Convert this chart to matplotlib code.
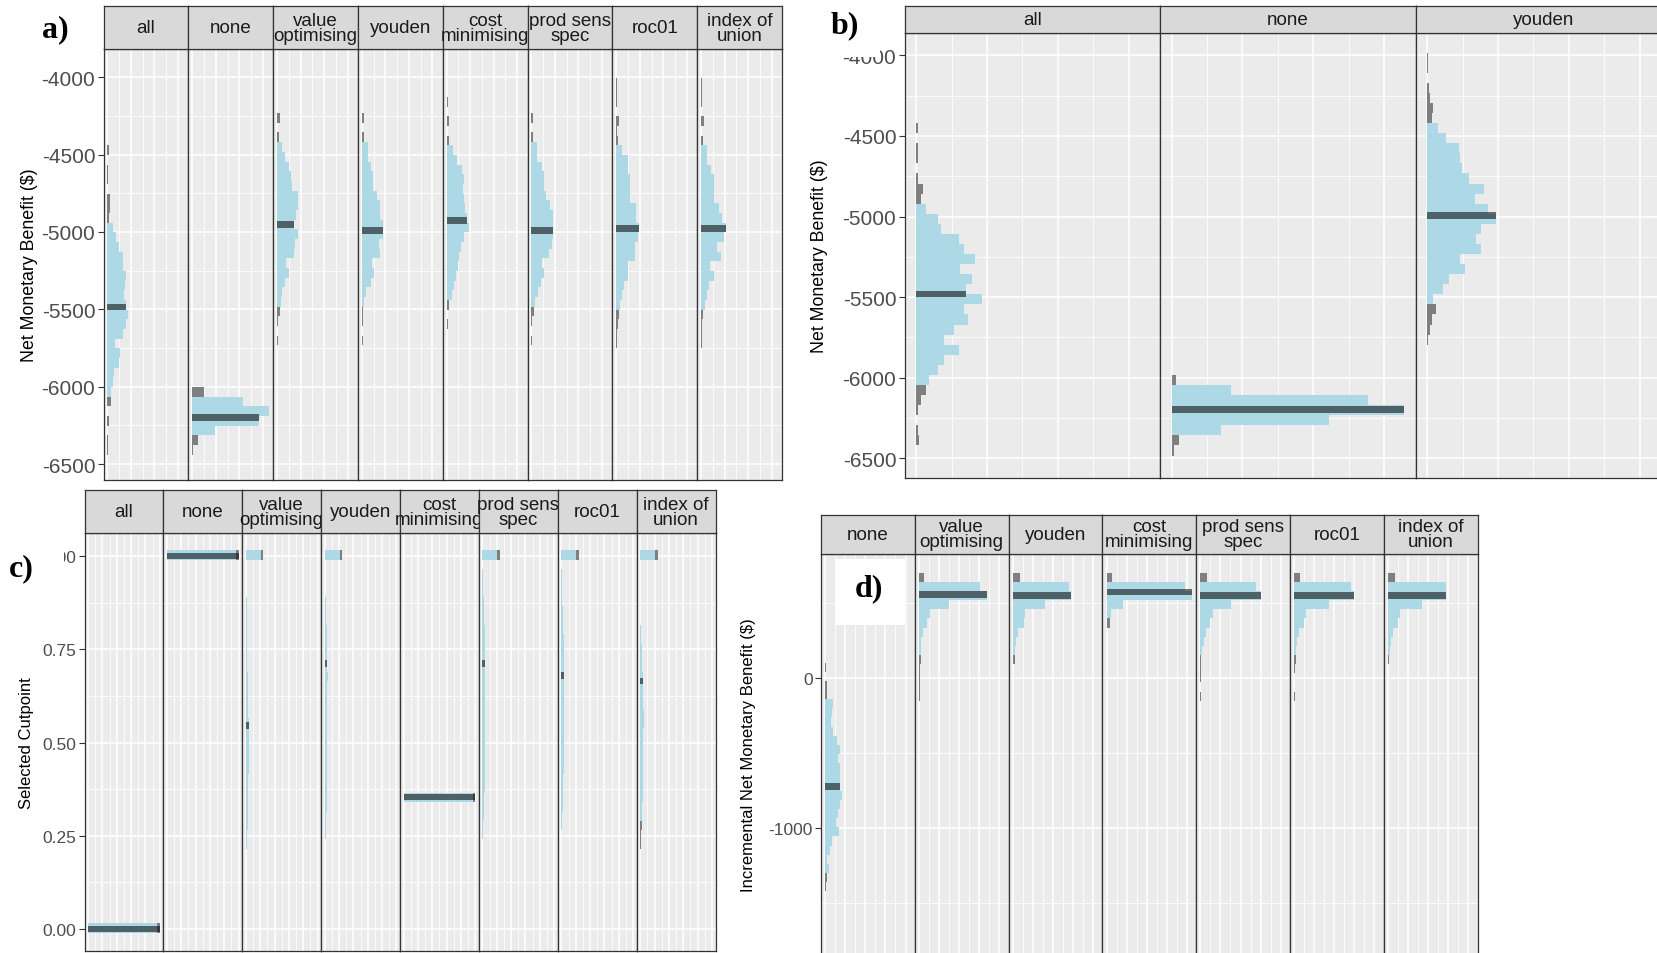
import numpy as np
import matplotlib
matplotlib.use("Agg")
import matplotlib.pyplot as plt
from matplotlib.patches import Rectangle

plt.rcParams['font.family'] = ['Liberation Sans', 'DejaVu Sans']

# Facet Names
methods = ["all", "none", "value\noptimising", "youden", "cost\nminimising",
           "prod sens\nspec", "roc01", "index of\nunion"]
b_methods = ["all", "none", "youden"]
d_methods = methods[1:]

# a) Net Monetary Benefit, counts listed from the top bin downwards
a_binwidth = 62.5
a_top_edge = [-4440, -6002.5, -4232.5, -4232.5, -4127.5, -4232.5, -4002.5, -4002.5]
a_counts = [
    [28, 0, 14, 14, 0, 49, 49, 30, 127, 176, 240, 338, 338, 388, 374, 360, 388, 430, 395, 324,
     155, 268, 240, 148, 127, 85, 78, 0, 28, 0, 20, 20],
    [247, 1085, 1640, 1414, 490, 113, 15],
    [56, 0, 42, 113, 169, 247, 289, 324, 437, 437, 409, 367, 437, 388, 360, 197, 247, 169, 113, 78,
     56, 21, 0, 14],
    [49, 0, 42, 134, 134, 204, 240, 240, 317, 388, 388, 458, 458, 374, 388, 212, 261, 197, 92, 56,
     35, 21, 0, 14],
    [28, 0, 49, 0, 49, 141, 212, 324, 374, 345, 374, 388, 430, 486, 374, 296, 268, 240, 197, 162,
     120, 56, 0, 28],
    [42, 0, 28, 127, 127, 219, 268, 268, 303, 388, 458, 458, 458, 430, 366, 226, 268, 212, 148, 78,
     49, 14, 0, 14],
    [14, 14, 14, 0, 56, 14, 42, 127, 240, 240, 282, 282, 296, 423, 423, 480, 458, 402, 402, 240,
     240, 169, 120, 70, 63, 28, 14, 14],
    [14, 14, 14, 0, 56, 0, 42, 127, 127, 212, 268, 268, 268, 374, 451, 536, 493, 345, 430, 183,
     268, 176, 127, 78, 42, 14, 14, 14],
]
a_median = [-5485, -6200, -4950, -4990, -4929, -4990, -4980, -4980]
a_ci_low = [-6065, -6315, -5480, -5480, -5440, -5480, -5500, -5500]
a_ci_high = [-4940, -6065, -4420, -4420, -4420, -4420, -4420, -4420]

# b) Net Monetary Benefit for three strategies
b_binwidth = 62.5
b_top_edge = [-4420, -5982.5, -3982.5]
b_counts = [
    [12, 0, 10, 10, 0, 10, 50, 31, 71, 154, 173, 299, 339, 412, 308, 391, 351, 462, 339, 363,
     268, 197, 299, 197, 154, 92, 71, 31, 10, 0, 10, 21],
    [28, 422, 1385, 1640, 1110, 351, 50, 19],
    [5, 5, 0, 10, 19, 40, 31, 80, 130, 225, 235, 246, 296, 398, 341, 431, 483, 379, 348, 379,
     235, 265, 152, 111, 38, 59, 31, 19, 7],
]
b_median = [-5480, -6196, -4995]
b_ci_low = [-6045, -6358, -5545]
b_ci_high = [-4920, -6045, -4420]

# c) Selected cutpoint, counts listed from the lowest bin upwards
c_binwidth = 0.025
c_low_edge = [-0.01, 0.99, 0.165, 0.19, 0.34, 0.24, 0.265, 0.215]
c_counts = [
    [9630],
    [9630],
    [40, 90, 150, 210, 260, 300, 330, 350, 360, 370, 380, 390, 400, 410, 420, 380, 330, 300, 280,
     260, 240, 230, 220, 210, 200, 190, 180, 160, 130, 90, 0, 0, 0, 2090],
    [30, 80, 140, 200, 240, 270, 290, 300, 310, 320, 330, 330, 340, 340, 350, 350, 360, 370, 380,
     390, 380, 360, 330, 300, 270, 230, 180, 120, 60, 0, 0, 0, 2090],
    [9700],
    [30, 90, 160, 220, 260, 290, 310, 320, 330, 340, 340, 350, 350, 360, 360, 370, 370, 380, 390,
     400, 380, 350, 310, 270, 220, 170, 120, 70, 30, 0, 2090],
    [40, 100, 170, 230, 270, 300, 320, 330, 340, 350, 350, 360, 360, 370, 370, 380, 390, 400, 390,
     370, 340, 300, 260, 210, 160, 110, 70, 30, 0, 2090],
    [60, 120, 190, 250, 300, 340, 370, 390, 410, 420, 430, 440, 450, 460, 460, 450, 430, 400, 360,
     310, 250, 190, 130, 80, 40, 0, 0, 0, 0, 0, 0, 2090],
]
c_tip = [370, 370, 350, 350, 300, 350, 350, 350]
c_median = [0.0, 1.0, 0.546, 0.711, 0.354, 0.711, 0.68, 0.665]
c_ci_low = [-0.02, 0.98, 0.2, 0.23, 0.33, 0.25, 0.27, 0.295]
c_ci_high = [0.02, 1.02, 1.02, 1.02, 0.37, 1.02, 1.02, 1.02]

# d) Incremental Net Monetary Benefit, counts listed from the top bin downwards
d_binwidth = 61
d_top_edge = [100, 699, 699, 699, 699, 699, 699]
d_counts = [
    [50, 0, 67, 67, 367, 317, 267, 367, 567, 735, 618, 735, 735, 735, 818, 735, 618, 518, 685,
     350, 250, 100, 200, 84, 50],
    [267, 3060, 3380, 1507, 535, 413, 219, 122, 97, 73, 25, 25, 25, 25],
    [340, 2820, 2890, 1600, 583, 535, 267, 146, 97, 97, 25, 25, 0, 25],
    [267, 3890, 4250, 800, 195, 146, 25],
    [316, 2770, 3010, 1507, 632, 462, 292, 170, 97, 25, 25, 25, 0, 25],
    [292, 2840, 2960, 1750, 583, 486, 243, 146, 97, 73, 25, 0, 0, 25],
    [365, 2870, 2870, 1677, 583, 486, 243, 146, 97, 73, 25, 0, 0, 25],
]
d_median = [-726, 553, 546, 570, 546, 546, 546]
d_ci_low = [-1300, 150, 150, 395, 150, 150, 150]
d_ci_high = [-145, 640, 640, 640, 640, 640, 640]

# Colours
BLUE = "#ADD8E6"
GREY = "#7F7F7F"
PANEL_BG = "#EBEBEB"
STRIP_BG = "#D9D9D9"
BORDER = "#333333"

W, H = 1657, 954
fig = plt.figure(figsize=(W / 100, H / 100), dpi=100)
fig.patch.set_facecolor("white")


# Function to Convert Pixel Box to Figure Fractions
def fig_rect(x0, y0, x1, y1):
    return [x0 / W, 1 - y1 / H, (x1 - x0) / W, (y1 - y0) / H]


# Function to Build One Row of Facets With Strips
def facet_row(x0, x1, y_strip, y_top, y_bot, labels, xlim, xmajor, xminor,
              ylim, ymajor, yminor, ylabels, tick_size=12.5):
    w = (x1 - x0) / len(labels)
    axes = []
    for i, lab in enumerate(labels):
        ax = fig.add_axes(fig_rect(x0 + i * w, y_top, x0 + (i + 1) * w, y_bot))
        ax.set_facecolor(PANEL_BG)
        ax.set_xticks(xmajor)
        ax.set_xticks(xminor, minor=True)
        ax.set_yticks(ymajor, labels=ylabels)
        ax.set_yticks(yminor, minor=True)
        # limits after the ticks, so the ticks do not widen them
        ax.set_xlim(xlim)
        ax.set_ylim(ylim)
        ax.grid(which="major", color="white", linewidth=1.1)
        ax.grid(which="minor", color="white", linewidth=0.55)
        ax.set_axisbelow(True)
        ax.tick_params(axis="x", which="both", length=0, labelbottom=False)
        ax.tick_params(axis="y", which="minor", length=0)
        if i == 0:
            ax.tick_params(axis="y", which="major", length=4, width=0.8, color=BORDER,
                           labelsize=tick_size, labelcolor="#4D4D4D", pad=2)
        else:
            ax.tick_params(axis="y", which="major", length=0, labelleft=False)
        for s in ax.spines.values():
            s.set_color(BORDER)
            s.set_linewidth(0.9)

        sax = fig.add_axes(fig_rect(x0 + i * w, y_strip, x0 + (i + 1) * w, y_top))
        sax.set_facecolor(STRIP_BG)
        sax.set_xticks([])
        sax.set_yticks([])
        for s in sax.spines.values():
            s.set_color(BORDER)
            s.set_linewidth(0.9)
        sax.text(0.5, 0.5, lab, ha="center", va="center", fontsize=13.5, color="#1A1A1A",
                 linespacing=0.85, transform=sax.transAxes)
        axes.append(ax)
    return axes


# Function to Draw a Horizontal Histogram With Interval Colouring and Median Bar
def draw_hist(ax, centers, counts, bw, med, lo, hi, med_h, tip=0):
    counts = np.asarray(counts, dtype=float)
    inside = (centers >= lo) & (centers <= hi)
    cols = np.where(inside, BLUE, GREY)
    ax.barh(centers, counts, height=bw, color=cols, linewidth=0, zorder=2)
    imax = int(np.argmax(counts))
    if tip:
        ax.barh(centers[imax], tip, left=counts[imax], height=bw, color=GREY,
                linewidth=0, zorder=2)
    imed = int(np.argmin(np.abs(centers - med)))
    length = counts[imed] + (tip if imed == imax else 0)
    ax.barh(med, length, height=med_h, color="black", alpha=0.55, linewidth=0, zorder=3)


nmb_major = np.arange(-6500, -3999, 500)
nmb_minor = np.arange(-6750, -3500, 500)
nmb_labels = [str(v) for v in nmb_major]
count_major = np.arange(0, 1800, 500)
count_minor = np.arange(250, 1800, 500)

# Panel a
axes_a = facet_row(103.6, 782, 7.4, 49.7, 481, methods, (-82, 1722), count_major, count_minor,
                   (-6603, -3816), nmb_major, nmb_minor, nmb_labels, tick_size=15)
for k, ax in enumerate(axes_a):
    n = len(a_counts[k])
    centers = a_top_edge[k] - a_binwidth * (np.arange(n) + 0.5)
    draw_hist(ax, centers, a_counts[k], a_binwidth, a_median[k], a_ci_low[k], a_ci_high[k], 45)

# Panel b
axes_b = facet_row(904.6, 1671, 7.4, 33.8, 478.7, b_methods, (-82, 1722), count_major,
                   count_minor, (-6620, -3860), nmb_major, nmb_minor, nmb_labels, tick_size=15)
for k, ax in enumerate(axes_b):
    n = len(b_counts[k])
    centers = b_top_edge[k] - b_binwidth * (np.arange(n) + 0.5)
    draw_hist(ax, centers, b_counts[k], b_binwidth, b_median[k], b_ci_low[k], b_ci_high[k], 42)

# Panel c
cut_major = [0.0, 0.25, 0.5, 0.75, 1.0]
cut_minor = [0.125, 0.375, 0.625, 0.875]
axes_c = facet_row(84.5, 715.5, 491.4, 533.7, 952, methods, (-500, 10500),
                   np.arange(0, 10001, 2000), np.arange(1000, 10001, 2000),
                   (-0.059, 1.0625), cut_major, cut_minor, ["%.2f" % v for v in cut_major])
for k, ax in enumerate(axes_c):
    n = len(c_counts[k])
    centers = c_low_edge[k] + c_binwidth * (np.arange(n) + 0.5)
    draw_hist(ax, centers, c_counts[k], c_binwidth, c_median[k], c_ci_low[k], c_ci_high[k],
              0.018, tip=c_tip[k])

# Panel d
axes_d = facet_row(821, 1477.5, 515.7, 554.8, 956, d_methods, (-212.5, 4462.5),
                   np.arange(0, 4500, 1000), np.arange(500, 4500, 1000),
                   (-1850, 825), [-1000, 0], [-1500, -500, 500], ["-1000", "0"])
for k, ax in enumerate(axes_d):
    n = len(d_counts[k])
    centers = d_top_edge[k] - d_binwidth * (np.arange(n) + 0.5)
    draw_hist(ax, centers, d_counts[k], d_binwidth, d_median[k], d_ci_low[k], d_ci_high[k], 42)

# Axis Titles
fig.text(29.6 / W, 1 - 265 / H, "Net Monetary Benefit ($)", rotation=90, ha="center",
         va="center", fontsize=12.8)
fig.text(820 / W, 1 - 256 / H, "Net Monetary Benefit ($)", rotation=90, ha="center",
         va="center", fontsize=12.8)
fig.text(26.4 / W, 1 - 743 / H, "Selected Cutpoint", rotation=90, ha="center", va="center",
         fontsize=12)
fig.text(748 / W, 1 - 755 / H, "Incremental Net Monetary Benefit ($)", rotation=90,
         ha="center", va="center", fontsize=12)


# Function to Add a White Box Covering Part of the Figure
def white_box(x0, y0, x1, y1):
    fig.patches.append(Rectangle((x0 / W, 1 - y1 / H), (x1 - x0) / W, (y1 - y0) / H,
                                 transform=fig.transFigure, facecolor="white",
                                 edgecolor="none", zorder=5))


white_box(850, 0, 880, 58)
white_box(0, 540, 64, 600)
white_box(835, 560, 905, 626)

# Panel Letters
for txt, x, y in [("a)", 55, 30), ("b)", 845, 26), ("c)", 21, 569), ("d)", 869, 589)]:
    fig.text(x / W, 1 - y / H, txt, ha="center", va="center", fontsize=23, fontweight="bold",
             family=["Liberation Serif", "DejaVu Serif"], zorder=6)

fig.savefig("out.png", dpi=100)
